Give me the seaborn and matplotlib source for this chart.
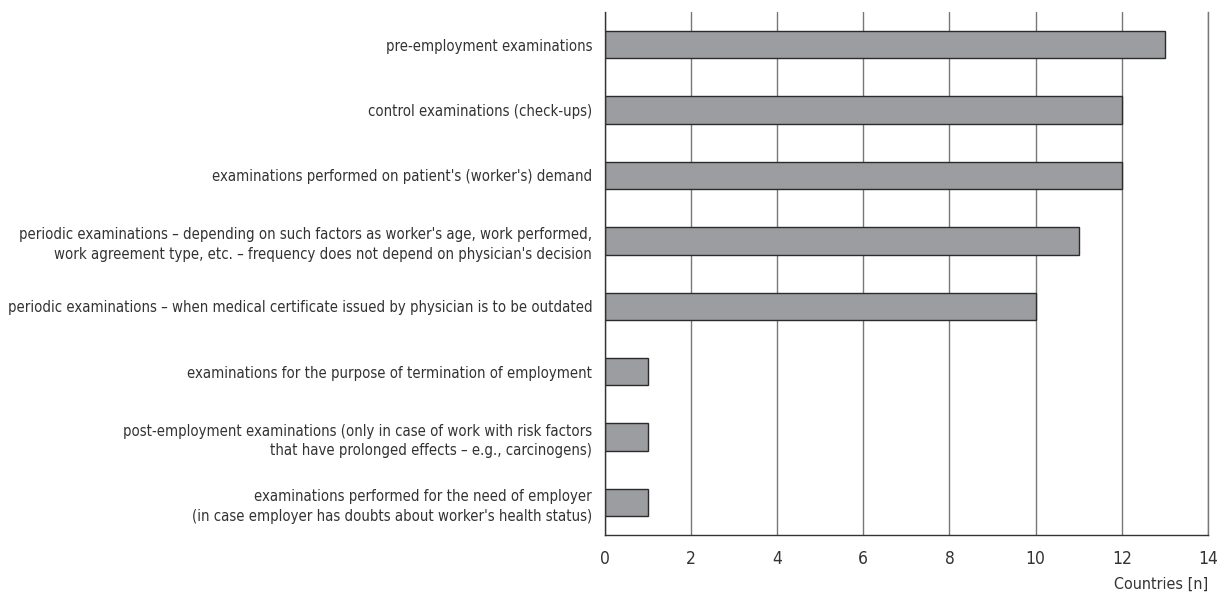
import numpy as np
import pandas as pd
import matplotlib
matplotlib.use("Agg")
import matplotlib.pyplot as plt
import seaborn as sns

categories = [
    "pre-employment examinations",
    "control examinations (check-ups)",
    "examinations performed on patient's (worker's) demand",
    "periodic examinations \u2013 depending on such factors as worker's age, work performed,\n"
    "work agreement type, etc. \u2013 frequency does not depend on physician's decision",
    "periodic examinations \u2013 when medical certificate issued by physician is to be outdated",
    "examinations for the purpose of termination of employment",
    "post-employment examinations (only in case of work with risk factors\n"
    "that have prolonged effects \u2013 e.g., carcinogens)",
    "examinations performed for the need of employer\n"
    "(in case employer has doubts about worker's health status)",
]
countries = [13, 12, 12, 11, 10, 1, 1, 1]
x_ticks = [0, 2, 4, 6, 8, 10, 12, 14]

sns.set_style("white")
plt.rcParams['font.family'] = ['DejaVu Sans']
plt.rcParams['font.stretch'] = 'condensed'

df = pd.DataFrame({"category": categories, "countries": countries})

fig = plt.figure(figsize=(12.24, 5.98), dpi=100)
ax = fig.add_axes([0.494, 0.105, 0.493, 0.875])

sns.barplot(data=df, x="countries", y="category", orient="h", color="#9c9da0",
            edgecolor="#2b2b2b", linewidth=1.0, width=0.42, saturation=1, ax=ax)

ax.set_xlim(0, 14)
ax.set_ylim(len(categories) - 0.5, -0.5)
ax.set_xticks(x_ticks)
ax.set_xticklabels([str(t) for t in x_ticks], fontsize=12.5, color="#333333")
ax.set_yticks(range(len(categories)))
ax.set_yticklabels(categories, fontsize=10.7, color="#333333", linespacing=1.4)
ax.set_yticks(np.arange(-0.5, len(categories), 1), minor=True)
ax.tick_params(axis="y", which="major", length=0, pad=9)
ax.tick_params(axis="y", which="minor", length=4, width=1, color="#333333", direction="out")
ax.tick_params(axis="x", which="major", length=5, width=1, color="#333333", direction="out", pad=6)
ax.set_ylabel("")
ax.set_xlabel("Countries [n]", fontsize=11.5, color="#333333", loc="right", labelpad=6)

ax.xaxis.grid(True, color="#777777", linewidth=1.0)
ax.set_axisbelow(True)
ax.spines["top"].set_visible(False)
ax.spines["right"].set_color("#777777")
ax.spines["right"].set_linewidth(1.0)
for side in ["left", "bottom"]:
    ax.spines[side].set_color("#333333")
    ax.spines[side].set_linewidth(1.0)

fig.savefig("out.png", dpi=100)
